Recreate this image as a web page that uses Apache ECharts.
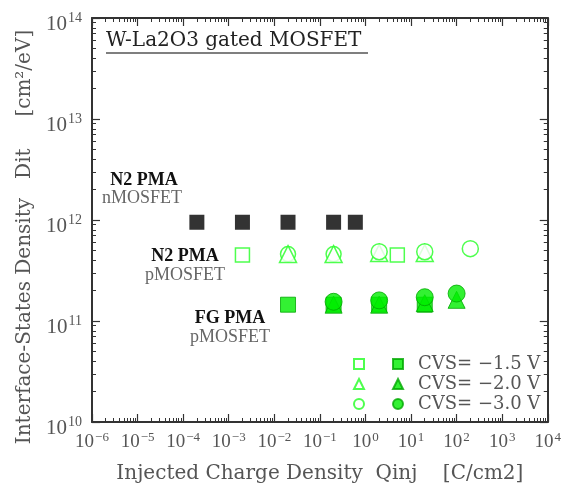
<!DOCTYPE html>
<html>
<head>
<meta charset="utf-8">
<script src="https://cdn.jsdelivr.net/npm/echarts@6/dist/echarts.min.js"></script>
<style>html,body{margin:0;padding:0;background:#fff}#c{width:564px;height:493px}</style>
</head>
<body>
<div id="c"></div>
<script>
// ---- data ----
var xTickExps = [-6, -5, -4, -3, -2, -1, 0, 1, 2, 3, 4];
var yTickExps = [10, 11, 12, 13, 14];

var nN2X = [2e-4, 2e-3, 2e-2, 0.2, 0.6];
var nN2Y = [9.5e11, 9.5e11, 9.5e11, 9.5e11, 9.5e11];

var pN2SqX = [2e-3, 5];
var pN2SqY = [4.5e11, 4.5e11];
var pN2TriX = [0.02, 0.2, 2, 20];
var pN2TriY = [4.6e11, 4.6e11, 4.7e11, 4.7e11];
var pN2CircX = [0.02, 0.2, 2, 20, 200];
var pN2CircY = [4.6e11, 4.6e11, 4.85e11, 4.85e11, 5.2e11];

var pFGSqX = [0.02, 0.2, 2, 20];
var pFGSqY = [1.45e11, 1.45e11, 1.45e11, 1.45e11];
var pFGTriX = [0.2, 2, 20, 100];
var pFGTriY = [1.45e11, 1.45e11, 1.5e11, 1.62e11];
var pFGCircX = [0.2, 2, 20, 100];
var pFGCircY = [1.55e11, 1.6e11, 1.72e11, 1.87e11];

var legendLabels = ['CVS= \u22121.5 V', 'CVS= \u22122.0 V', 'CVS= \u22123.0 V'];

// ---- helpers ----
function zip(xs, ys) { return xs.map(function (x, i) { return [x, ys[i]]; }); }
function minorVals(lo, hi) {
  var out = [];
  for (var e = lo; e < hi; e++) for (var k = 2; k <= 9; k++) out.push(k * Math.pow(10, e));
  return out;
}
var SERIF = '"Liberation Serif", serif';
var WIDE = '"DejaVu Serif", serif';
var GRAY = '#555';
var AX = '#333';
var GREEN = '#22ff22';
var GREEN_FILL = '#00ee00';
var GREEN_EDGE = '#00a800';

function expLabel(v) {
  var e = Math.round(Math.log10(v));
  return '{b|10}{s|' + (e < 0 ? '\u2212' + (-e) : e) + '}';
}
function richFor(size) {
  return {
    b: { fontSize: size, fontFamily: SERIF, color: GRAY },
    s: { fontSize: Math.round(size * 0.68), fontFamily: SERIF, color: GRAY, verticalAlign: 'top', padding: [0, 0, Math.round(size * 0.5), 1] }
  };
}

function logAxis(kind, pos, major, extra) {
  var base = {
    type: 'log', logBase: 10, position: pos,
    min: kind === 'x' ? 1e-6 : 1e10, max: kind === 'x' ? 1e4 : 1e14,
    interval: 1,
    splitLine: { show: false },
    axisLine: { show: true, onZero: false,
                lineStyle: major ? { color: AX, width: 2 } : { color: 'rgba(0,0,0,0)', width: 0 } },
    axisTick: major
      ? { show: true, inside: true, length: 8, lineStyle: { color: AX, width: 1.2 } }
      : { show: true, inside: true, length: 4, lineStyle: { color: AX, width: 1 },
          customValues: kind === 'x' ? minorVals(-6, 4) : minorVals(10, 14) },
    axisLabel: { show: false }
  };
  for (var k in extra) base[k] = extra[k];
  return base;
}

var openStyle = { color: '#fff', borderColor: GREEN, borderWidth: 1.5 };
var fillStyle = { color: GREEN_FILL, borderColor: GREEN_EDGE, borderWidth: 1 };
var fgNames = ['FG -1.5', 'FG -2.0', 'FG -3.0'];

var chart = echarts.init(document.getElementById('c'), null, { renderer: 'canvas' });
chart.setOption({
  animation: false,
  backgroundColor: '#fff',
  grid: { left: 92, right: 15, top: 18, bottom: 71, containLabel: false },
  xAxis: [
    logAxis('x', 'bottom', true, {
      axisLabel: { show: true, margin: 9, formatter: expLabel, rich: richFor(19) },
      name: 'Injected Charge Density  Qinj    [C/cm2]',
      nameLocation: 'middle', nameGap: 42,
      nameTextStyle: { fontFamily: WIDE, fontSize: 20, color: GRAY }
    }),
    logAxis('x', 'bottom', false, {}),
    logAxis('x', 'top', true, {}),
    logAxis('x', 'top', false, {})
  ],
  yAxis: [
    logAxis('y', 'left', true, {
      axisLabel: { show: true, margin: 10, formatter: expLabel, rich: richFor(21), padding: [12, 0, 0, 0] },
      name: 'Interface-States Density   Dit     [cm\u00b2/eV]',
      nameLocation: 'middle', nameGap: 57,
      nameTextStyle: { fontFamily: WIDE, fontSize: 20, color: GRAY, padding: [0, 34, 0, 0] }
    }),
    logAxis('y', 'left', false, {}),
    logAxis('y', 'right', true, {}),
    logAxis('y', 'right', false, {})
  ],
  legend: [
    {
      data: ['N2 -1.5', 'N2 -2.0', 'N2 -3.0'],
      orient: 'vertical', left: 348, top: 349, itemWidth: 10, itemHeight: 10, itemGap: 0,
      formatter: function () { return ' '; },
      textStyle: { fontSize: 18, lineHeight: 20, fontFamily: SERIF },
      selectedMode: false
    },
    {
      data: fgNames,
      orient: 'vertical', left: 387, top: 349, itemWidth: 10, itemHeight: 10, itemGap: 0,
      formatter: function (n) { return '{g|}' + legendLabels[fgNames.indexOf(n)]; },
      textStyle: { fontSize: 18, lineHeight: 20, fontFamily: WIDE, color: GRAY,
                   rich: { g: { width: 10 } } },
      selectedMode: false
    }
  ],
  series: [
    { name: 'nN2', type: 'scatter', data: zip(nN2X, nN2Y), symbol: 'rect', symbolSize: 15,
      itemStyle: { color: '#000', borderColor: '#000', borderWidth: 0 } },
    { name: 'N2 -3.0', type: 'scatter', data: zip(pN2CircX, pN2CircY).slice(0, 2), symbol: 'circle', symbolSize: 15, itemStyle: openStyle },
    { name: 'N2 -2.0', type: 'scatter', data: zip(pN2TriX, pN2TriY), symbol: 'triangle', symbolSize: 17, itemStyle: openStyle },
    { name: 'N2 -3.0', type: 'scatter', data: zip(pN2CircX, pN2CircY).slice(2), symbol: 'circle', symbolSize: 16, itemStyle: openStyle },
    { name: 'N2 -1.5', type: 'scatter', data: zip(pN2SqX, pN2SqY), symbol: 'rect', symbolSize: 14, itemStyle: openStyle },
    { name: 'FG -1.5', type: 'scatter', data: zip(pFGSqX, pFGSqY), symbol: 'rect', symbolSize: 15, itemStyle: fillStyle },
    { name: 'FG -2.0', type: 'scatter', data: zip(pFGTriX, pFGTriY), symbol: 'triangle', symbolSize: 17, itemStyle: fillStyle },
    { name: 'FG -3.0', type: 'scatter', data: zip(pFGCircX, pFGCircY), symbol: 'circle', symbolSize: 17, itemStyle: fillStyle }
  ],
  graphic: [
    { type: 'text', x: 106, y: 41, style: { text: 'W-La2O3 gated MOSFET', fontFamily: WIDE, fontSize: 20, fill: '#222', verticalAlign: 'middle' } },
    { type: 'line', shape: { x1: 106, y1: 53, x2: 368, y2: 53 }, style: { stroke: '#555', lineWidth: 1.5 } },
    { type: 'text', x: 144, y: 180, style: { text: 'N2 PMA', fontFamily: SERIF, fontSize: 18, fontWeight: 'bold', fill: '#111', align: 'center', verticalAlign: 'middle' } },
    { type: 'text', x: 142, y: 198, style: { text: 'nMOSFET', fontFamily: SERIF, fontSize: 18, fill: '#666', align: 'center', verticalAlign: 'middle' } },
    { type: 'text', x: 185, y: 256, style: { text: 'N2 PMA', fontFamily: SERIF, fontSize: 18, fontWeight: 'bold', fill: '#111', align: 'center', verticalAlign: 'middle' } },
    { type: 'text', x: 185, y: 275, style: { text: 'pMOSFET', fontFamily: SERIF, fontSize: 18, fill: '#666', align: 'center', verticalAlign: 'middle' } },
    { type: 'text', x: 230, y: 318, style: { text: 'FG PMA', fontFamily: SERIF, fontSize: 18, fontWeight: 'bold', fill: '#111', align: 'center', verticalAlign: 'middle' } },
    { type: 'text', x: 230, y: 337, style: { text: 'pMOSFET', fontFamily: SERIF, fontSize: 18, fill: '#666', align: 'center', verticalAlign: 'middle' } }
  ]
});
</script>
</body>
</html>
